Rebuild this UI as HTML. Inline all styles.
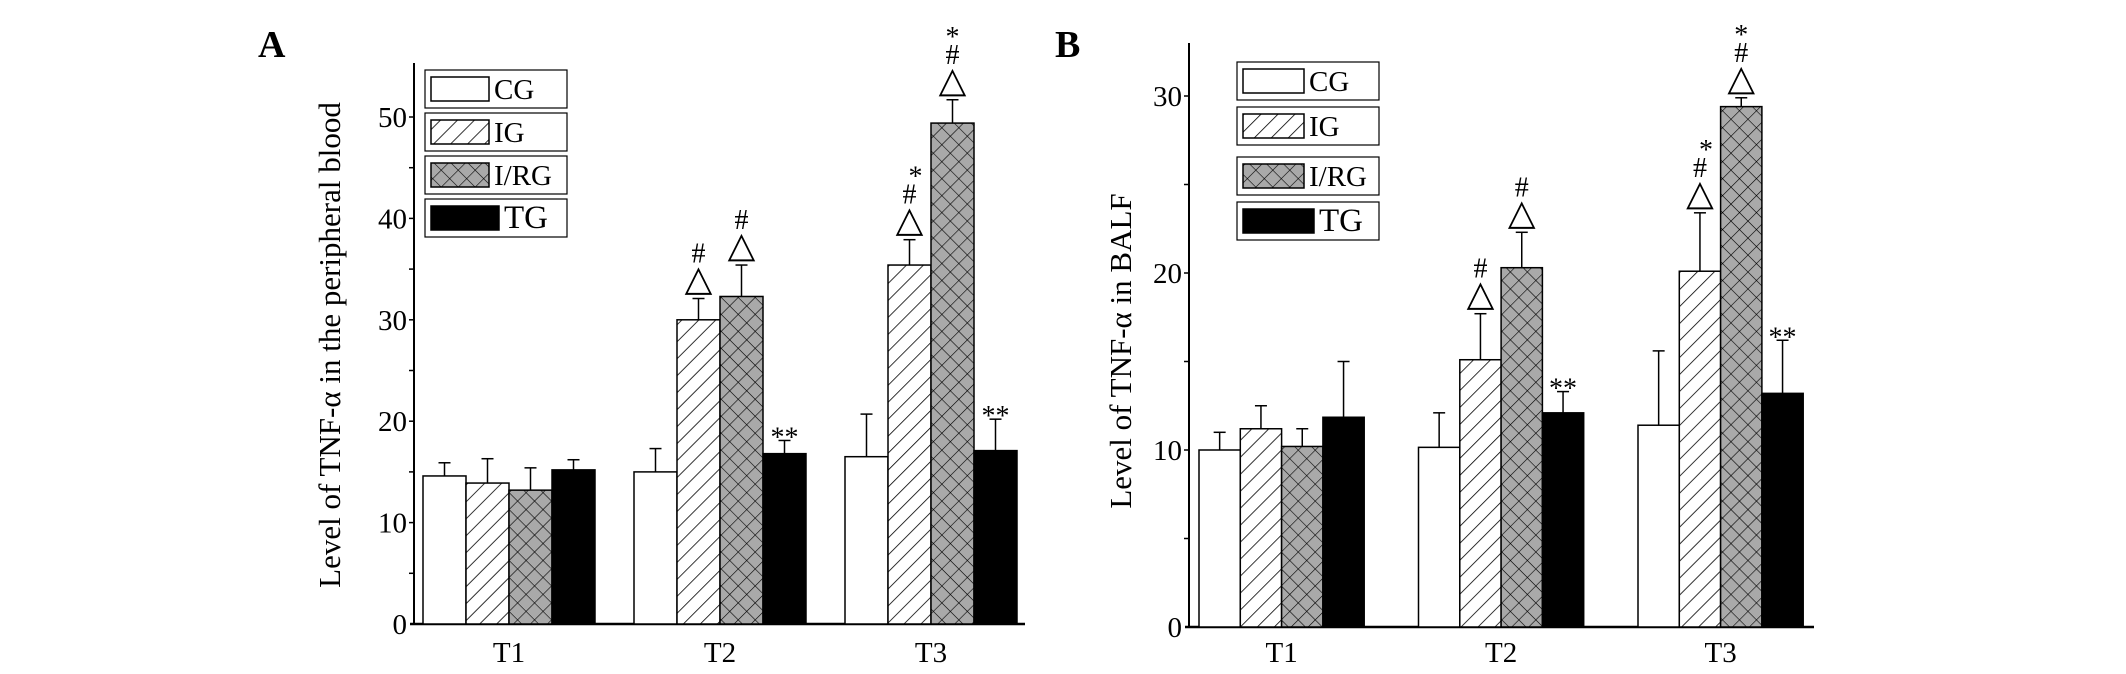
<!DOCTYPE html>
<html><head><meta charset="utf-8"><style>
html,body{margin:0;padding:0;background:#fff;}
svg{display:block;font-family:"Liberation Serif",serif;}
</style></head><body>
<svg id="chart" width="2126" height="674" viewBox="0 0 2126 674" xmlns="http://www.w3.org/2000/svg">
<defs>
<pattern id="hatch" patternUnits="userSpaceOnUse" width="12" height="12" patternTransform="rotate(45)">
<rect width="12" height="12" fill="#fff"/><line x1="0" y1="0" x2="0" y2="12" stroke="#000" stroke-width="1.6"/>
</pattern>
<pattern id="cross" patternUnits="userSpaceOnUse" width="12" height="12" patternTransform="rotate(45)">
<rect width="12" height="12" fill="#a9a9a9"/><line x1="0" y1="0" x2="0" y2="12" stroke="#000" stroke-width="1.2"/><line x1="0" y1="0" x2="12" y2="0" stroke="#000" stroke-width="1.2"/>
</pattern>
</defs>
</svg>
<script>
const categories = ["T1","T2","T3"];
const groups = ["CG","IG","I/RG","TG"];
// Panel A: peripheral blood
const aValues = [[14.6,13.9,13.2,15.2],[15.0,30.0,32.3,16.8],[16.5,35.4,49.4,17.1]];
const aErrors = [[15.9,16.3,15.4,16.2],[17.3,32.1,35.4,18.1],[20.7,37.9,51.7,20.2]];
const aTicks = [0,10,20,30,40,50];
const aMarks = [[[],[],[],[]],[[""],["△","#"],["△","#"],["**"]],[[""],["△","#","*"],["△","#","*"],["**"]]];
// Panel B: BALF
const bValues = [[10.0,11.2,10.2,11.85],[10.15,15.1,20.3,12.1],[11.4,20.1,29.4,13.2]];
const bErrors = [[11.0,12.5,11.2,15.0],[12.1,17.7,22.3,13.3],[15.6,23.4,29.9,16.2]];
const bTicks = [0,10,20,30];
const bMarks = [[[],[],[],[]],[[""],["△","#"],["△","#"],["**"]],[[""],["△","#","*"],["△","#","*"],["**"]]];

const NS="http://www.w3.org/2000/svg";
const svg=document.getElementById('chart');
function mk(tag,attrs,parent){const e=document.createElementNS(NS,tag);for(const k in attrs)e.setAttribute(k,attrs[k]);(parent||svg).appendChild(e);return e;}
const fills=["#fff","url(#hatch)","url(#cross)","#000"];

function panel(cfg,values,errors,ticks,marks){
  const g=mk('g',{});
  
  
  const y=v=>cfg.y0-(v)*cfg.ppu;
  const L=mk('text',{x:cfg.letterX,y:57,'font-size':38,'font-weight':'bold'},g);L.textContent=cfg.letter;
  
  
  const ya=mk('line',{x1:cfg.ax,y1:cfg.top,x2:cfg.ax,y2:cfg.y0,stroke:'#000','stroke-width':2},g);
  
  
  const xa=mk('line',{x1:cfg.ax-4,y1:cfg.y0,x2:cfg.xend,y2:cfg.y0,stroke:'#000','stroke-width':2.5},g);
  
  
  const maxT=ticks[ticks.length-1];
  for(let v=5;v<=maxT+0.1;v+=5){mk('line',{x1:cfg.ax-5,y1:y(v),x2:cfg.ax,y2:y(v),stroke:'#000','stroke-width':1.5},g);}
  ticks.forEach(t=>{const tx=mk('text',{x:cfg.ax-7,y:y(t)+10,'font-size':29,'text-anchor':'end'},g);tx.textContent=t;
    
    });
  const yt=mk('text',{x:0,y:0,'font-size':cfg.titleSize,'text-anchor':'middle',transform:`translate(${cfg.titleX},${cfg.titleY}) rotate(-90)`},g);
  yt.textContent=cfg.title;
  
  
  categories.forEach((c,i)=>{
    const gx=cfg.g0+i*cfg.gs;
    const cl=mk('text',{x:gx+2*cfg.bw,y:662,'font-size':29,'text-anchor':'middle'},g);cl.textContent=c;
    
    
    groups.forEach((s,j)=>{
      const x=gx+j*cfg.bw, v=values[i][j], e=errors[i][j], cx=x+cfg.bw/2;
      mk('line',{x1:cx,y1:y(v),x2:cx,y2:y(e),stroke:'#000','stroke-width':1.5},g);
      mk('line',{x1:cx-6,y1:y(e),x2:cx+6,y2:y(e),stroke:'#000','stroke-width':1.5},g);
      const r=mk('rect',{x:x,y:y(v),width:cfg.bw,height:v*cfg.ppu,fill:fills[j],stroke:'#000','stroke-width':1.5},g);
      
      
      let yy=y(e)-8;
      (marks[i][j]||[]).forEach(m=>{
        if(!m)return;
        const sz=m==="△"?36:28;
        const t=mk('text',{x:cx+(m==="*"&&i===2&&j===1?6:0),y:m==="**"?yy+14:(m==="*"?yy+6:yy),'font-size':sz,'text-anchor':'middle'},g);
        t.textContent=m;
        
        
        yy-= m==="△"?28:24;
      });
    });
  });
  groups.forEach((s,j)=>{
    const ly=cfg.legY[j], h=cfg.legH;
    const lg=mk('g',{},g);
    
    
    mk('rect',{x:cfg.legX,y:ly,width:cfg.legW,height:h,fill:'#fff',stroke:'#000','stroke-width':1.2},lg);
    const sw=j===3?cfg.swW+10:cfg.swW;
    mk('rect',{x:cfg.legX+6,y:ly+7,width:sw,height:h-14,fill:fills[j],stroke:'#000','stroke-width':1.5},lg);
    const t=mk('text',{x:cfg.legX+sw+11,y:ly+h/2+10,'font-size':j===3?33:29},lg);t.textContent=s;
  });
}
panel({name:'panel-a',letter:'A',letterX:258,ax:414,top:63,y0:624,ppu:10.14,xend:1025,g0:423,gs:211,bw:43,
  title:'Level of TNF-α in the peripheral blood',titleSize:31,titleX:340,titleY:345,
  legX:425,legW:142,legH:38,legY:[70,113,156,199],swW:58},aValues,aErrors,aTicks,aMarks);
panel({name:'panel-b',letter:'B',letterX:1055,ax:1189,top:43,y0:627,ppu:17.7,xend:1814,g0:1199,gs:219.5,bw:41.3,
  title:'Level of TNF-α in BALF',titleSize:31,titleX:1131,titleY:351,
  legX:1237,legW:142,legH:38,legY:[62,107,157,202],swW:61},bValues,bErrors,bTicks,bMarks);
</script>
</body></html>
